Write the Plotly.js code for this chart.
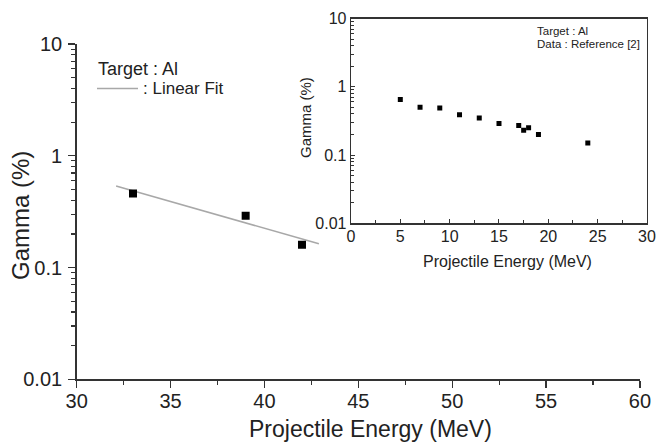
<!DOCTYPE html>
<html>
<head>
<meta charset="utf-8">
<script src="https://cdn.plot.ly/plotly-3.0.1.min.js"></script>
<style>html,body{margin:0;padding:0;background:#fff;}#chart{width:657px;height:445px;}</style>
</head>
<body>
<div id="chart"></div>
<script>
// Main plot data (this work)
const mainEnergy = [33, 39, 42];
const mainGamma = [0.46, 0.29, 0.16];
// Linear fit end points
const fitEnergy = [32.1, 42.9];
const fitGamma = [0.537, 0.163];
// Inset data: Reference [2]
const refEnergy = [5, 7, 9, 11, 13, 15, 17, 17.5, 18, 19, 24];
const refGamma = [0.65, 0.50, 0.49, 0.39, 0.35, 0.29, 0.27, 0.23, 0.25, 0.20, 0.15];
// Tick labels
const logTickVals = [0.01, 0.1, 1, 10];
const logTickText = ['0.01', '0.1', '1', '10'];
const mainXTicks = [30, 35, 40, 45, 50, 55, 60];
const insetXTicks = [0, 5, 10, 15, 20, 25, 30];

const minorLog = [];
[0.01, 0.1, 1].forEach(d => { for (let k = 2; k <= 9; k++) minorLog.push(+(d * k).toPrecision(3)); });

const FONT = '"Liberation Sans", Arial, Helvetica, sans-serif';
const AX = '#333';
const TXT = '#222';
const W = 657, H = 445;
const px = v => v / W, py = v => 1 - v / H;

const traces = [
  {x: fitEnergy, y: fitGamma, mode: 'lines', line: {color: '#a8a8a8', width: 1.5}, xaxis: 'x', yaxis: 'y', hoverinfo: 'skip'},
  {x: mainEnergy, y: mainGamma, mode: 'markers', marker: {symbol: 'square', size: 8, color: '#000'}, xaxis: 'x', yaxis: 'y'},
  {x: refEnergy, y: refGamma, mode: 'markers', marker: {symbol: 'square', size: 5, color: '#000'}, xaxis: 'x2', yaxis: 'y2'}
];

const layout = {
  width: W, height: H,
  margin: {l: 0, r: 0, t: 0, b: 0},
  paper_bgcolor: '#fff', plot_bgcolor: 'rgba(0,0,0,0)',
  showlegend: false,
  font: {family: FONT, color: TXT},
  xaxis: {
    domain: [0.1167, 0.9741], anchor: 'y', range: [30, 60],
    tickmode: 'array', tickvals: mainXTicks,
    ticks: 'outside', ticklen: 7, tickwidth: 1.3, tickcolor: AX, ticklabelstandoff: -4,
    minor: {tickmode: 'array', tickvals: [32.5, 37.5, 42.5, 47.5, 52.5, 57.5], ticks: 'outside', ticklen: 4, tickwidth: 1.2, tickcolor: AX},
    showline: true, linecolor: AX, linewidth: 1.5, mirror: false,
    showgrid: false, zeroline: false,
    tickfont: {size: 20, family: FONT, color: TXT}
  },
  yaxis: {
    domain: [0.1476, 0.9011], anchor: 'x', type: 'log', range: [-2, 1],
    tickmode: 'array', tickvals: logTickVals, ticktext: logTickText,
    ticks: 'outside', ticklen: 7, tickwidth: 1.3, tickcolor: AX, ticklabelstandoff: 2,
    minor: {tickmode: 'array', tickvals: minorLog, ticks: 'outside', ticklen: 4, tickwidth: 1.2, tickcolor: AX},
    showline: true, linecolor: AX, linewidth: 1.5, mirror: false,
    showgrid: false, zeroline: false,
    tickfont: {size: 20, family: FONT, color: TXT}
  },
  xaxis2: {
    domain: [0.5342, 0.9848], anchor: 'y2', range: [0, 30],
    tickmode: 'array', tickvals: insetXTicks,
    ticks: 'inside', ticklen: 4, tickwidth: 1, tickcolor: AX, ticklabelstandoff: -2,
    minor: {tickmode: 'array', tickvals: [2.5, 7.5, 12.5, 17.5, 22.5, 27.5], ticks: 'inside', ticklen: 3, tickwidth: 1, tickcolor: AX},
    showline: true, linecolor: AX, linewidth: 1.3, mirror: true,
    showgrid: false, zeroline: false,
    tickfont: {size: 16, family: FONT, color: TXT}
  },
  yaxis2: {
    domain: [0.4982, 0.9584], anchor: 'x2', type: 'log', range: [-2, 1],
    tickmode: 'array', tickvals: logTickVals, ticktext: logTickText,
    ticks: 'inside', ticklen: 4, tickwidth: 1, tickcolor: AX,
    minor: {tickmode: 'array', tickvals: minorLog, ticks: 'inside', ticklen: 3, tickwidth: 1, tickcolor: AX},
    showline: true, linecolor: AX, linewidth: 1.3, mirror: true,
    showgrid: false, zeroline: false,
    tickfont: {size: 16, family: FONT, color: TXT}
  },
  shapes: [
    {type: 'line', xref: 'paper', yref: 'paper', x0: px(97), x1: px(138), y0: py(88.5), y1: py(88.5), line: {color: '#a8a8a8', width: 1.5}}
  ],
  annotations: [
    // axis titles
    {xref: 'paper', yref: 'paper', x: px(370), y: py(429), xanchor: 'center', yanchor: 'middle', showarrow: false, text: 'Projectile Energy (MeV)', font: {size: 23, family: FONT, color: TXT}},
    {xref: 'paper', yref: 'paper', x: px(21), y: py(216), xanchor: 'center', yanchor: 'middle', textangle: -90, showarrow: false, text: 'Gamma (%)', font: {size: 24, family: FONT, color: TXT}},
    {xref: 'paper', yref: 'paper', x: px(507), y: py(261), xanchor: 'center', yanchor: 'middle', showarrow: false, text: 'Projectile Energy (MeV)', font: {size: 16, family: FONT, color: TXT}},
    {xref: 'paper', yref: 'paper', x: px(305), y: py(118), xanchor: 'center', yanchor: 'middle', textangle: -90, showarrow: false, text: 'Gamma (%)', font: {size: 15, family: FONT, color: TXT}},
    // legend / notes
    {xref: 'paper', yref: 'paper', x: px(96), y: py(69), xanchor: 'left', yanchor: 'middle', showarrow: false, text: 'Target : Al', font: {size: 18, family: FONT, color: TXT}},
    {xref: 'paper', yref: 'paper', x: px(141), y: py(89), xanchor: 'left', yanchor: 'middle', showarrow: false, text: ': Linear Fit', font: {size: 17, family: FONT, color: TXT}},
    {xref: 'paper', yref: 'paper', x: px(535), y: py(31), xanchor: 'left', yanchor: 'middle', showarrow: false, text: 'Target : Al', font: {size: 11.5, family: FONT, color: TXT}},
    {xref: 'paper', yref: 'paper', x: px(535), y: py(44), xanchor: 'left', yanchor: 'middle', showarrow: false, text: 'Data : Reference [2]', font: {size: 11.5, family: FONT, color: TXT}}
  ]
};

Plotly.newPlot('chart', traces, layout, {staticPlot: true, displayModeBar: false});
</script>
</body>
</html>
